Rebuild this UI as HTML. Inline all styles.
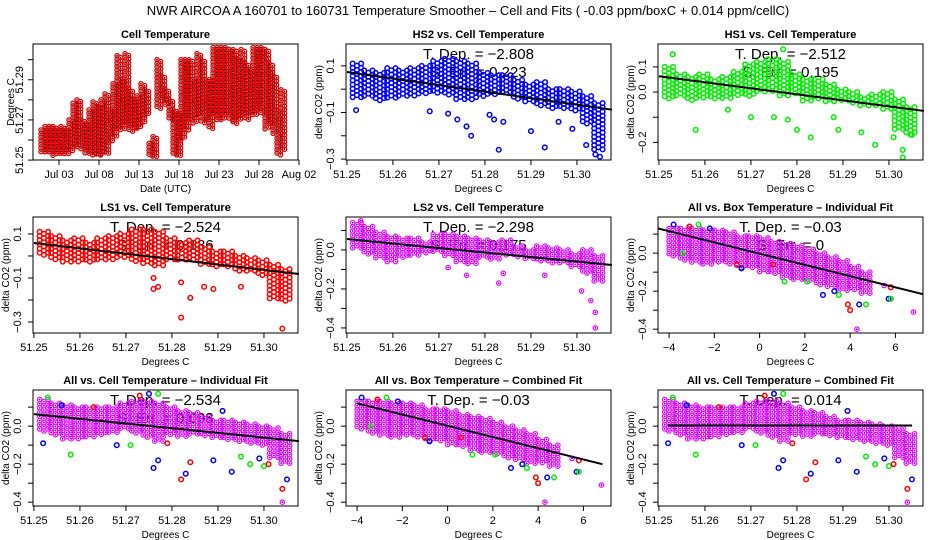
<!DOCTYPE html>
<html><head><meta charset="utf-8"><style>
body{margin:0;background:#fff}
svg{display:block;font-family:"Liberation Sans",sans-serif}
</style></head><body>
<svg id="chart" width="936" height="540">
<rect width="936" height="540" fill="#fff"/>
<text x="468" y="15" text-anchor="middle" font-size="13">NWR   AIRCOA A   160701 to 160731   Temperature Smoother – Cell and Fits ( -0.03  ppm/boxC + 0.014  ppm/cellC)</text>
</svg>
<script>
// ---- data ----
const cellDays=[0,0.5,1,1.5,2,2.5,3,3.5,4,4.5,5,5.5,6,6.5,7,7.5,8,8.5,9,9.5,10,10.5,11,11.5,12,12.5,13,13.5,14,14.5,15,15.5,16,16.5,17,17.5,18,18.5,19,19.5,20,20.5,21,21.5,22,22.5,23,23.5,24,24.5,25,25.5,26,26.5,27,27.5,28,28.5,29,29.5,30];
const cellLo=[51.2542,51.2533,51.2533,51.252,51.2525,51.2525,51.2525,51.254,51.256,51.256,51.255,51.2533,51.2525,51.2525,51.2525,51.2525,51.2533,51.258,51.262,51.265,51.265,51.268,51.264,51.266,51.265,51.268,51.272,51.2517,51.2517,51.275,51.28,51.277,51.27,51.252,51.252,51.26,51.265,51.27,51.268,51.272,51.268,51.27,51.265,51.272,51.27,51.27,51.272,51.27,51.268,51.27,51.272,51.27,51.272,51.272,51.275,51.272,51.265,51.268,51.263,51.252,51.255];
const cellHi=[51.265,51.2667,51.2667,51.2667,51.265,51.2667,51.265,51.27,51.2783,51.28,51.27,51.268,51.275,51.279,51.2767,51.28,51.283,51.275,51.288,51.302,51.29,51.303,51.285,51.28,51.282,51.288,51.285,51.2583,51.2617,51.3,51.292,51.285,51.28,51.275,51.273,51.3,51.3,51.3,51.29,51.303,51.3,51.29,51.29,51.306,51.306,51.306,51.306,51.305,51.305,51.3,51.305,51.298,51.295,51.306,51.306,51.306,51.305,51.298,51.292,51.275,51.285];
const tBins=[51.2525,51.255,51.2575,51.26,51.2625,51.265,51.2675,51.27,51.2725,51.275,51.2775,51.28,51.2825,51.285,51.2875,51.29,51.2925,51.295,51.2975,51.30,51.3025,51.305];
const hs2Lo=[-0.04,-0.03,-0.05,-0.04,-0.03,-0.03,-0.02,-0.02,-0.03,-0.05,-0.05,-0.03,-0.03,-0.02,-0.05,-0.06,-0.07,-0.09,-0.09,-0.1,-0.15,-0.26];
const hs2Hi=[0.11,0.08,0.07,0.09,0.08,0.09,0.1,0.12,0.13,0.12,0.11,0.07,0.06,0.06,0.04,0.02,0.03,0.0,0.0,-0.01,-0.03,-0.06];
const hs2OutX=[51.252,51.268,51.272,51.274,51.276,51.277,51.281,51.282,51.283,51.284,51.29,51.293,51.296,51.299,51.302,51.304,51.305];
const hs2OutY=[-0.09,-0.095,-0.105,-0.13,-0.16,-0.2,-0.11,-0.13,-0.26,-0.14,-0.18,-0.25,-0.14,-0.17,-0.24,-0.28,-0.29];
const hs1Lo=[-0.03,-0.02,-0.04,-0.03,-0.03,-0.03,-0.02,-0.02,0.0,0.0,-0.02,-0.01,-0.04,-0.03,-0.04,-0.04,-0.05,-0.06,-0.06,-0.07,-0.15,-0.17];
const hs1Hi=[0.1,0.07,0.06,0.07,0.05,0.06,0.08,0.11,0.12,0.13,0.12,0.07,0.05,0.05,0.03,0.01,0.0,-0.02,-0.01,0.0,-0.03,-0.06];
const hs1OutX=[51.253,51.258,51.265,51.27,51.275,51.278,51.28,51.283,51.288,51.289,51.294,51.297,51.301,51.303,51.303,51.305,51.277];
const hs1OutY=[0.15,-0.15,-0.07,-0.1,-0.1,-0.11,-0.15,-0.18,-0.1,-0.15,-0.16,-0.21,-0.18,-0.23,-0.26,-0.17,0.17];
const ls1Lo=[0.0,-0.02,-0.03,-0.03,-0.03,-0.02,-0.02,-0.01,-0.03,-0.04,-0.05,-0.02,-0.02,-0.02,-0.04,-0.05,-0.05,-0.07,-0.07,-0.09,-0.2,-0.21];
const ls1Hi=[0.11,0.09,0.07,0.08,0.06,0.08,0.09,0.1,0.12,0.12,0.11,0.08,0.06,0.07,0.04,0.02,0.02,0.0,-0.01,-0.02,-0.04,-0.06];
const ls1OutX=[51.276,51.277,51.282,51.282,51.284,51.287,51.289,51.295,51.304,51.276];
const ls1OutY=[-0.15,-0.14,-0.12,-0.28,-0.19,-0.14,-0.15,-0.14,-0.33,-0.1];
const ls2Lo=[0.0,-0.03,-0.05,-0.06,-0.04,-0.03,-0.02,-0.01,-0.03,-0.06,-0.08,-0.04,-0.05,-0.03,-0.04,-0.05,-0.06,-0.07,-0.07,-0.09,-0.12,-0.16];
const ls2Hi=[0.14,0.12,0.09,0.07,0.06,0.06,0.04,0.08,0.08,0.07,0.06,0.05,0.04,0.05,0.02,0.0,0.02,0.01,0.0,-0.02,0.0,-0.03];
const ls2OutX=[51.253,51.272,51.276,51.283,51.284,51.293,51.301,51.303,51.304,51.304];
const ls2OutY=[0.15,-0.09,-0.13,-0.17,-0.12,-0.13,-0.21,-0.26,-0.32,-0.4];
const allLo=[-0.03,-0.05,-0.07,-0.07,-0.06,-0.05,-0.04,-0.02,-0.04,-0.06,-0.08,-0.05,-0.06,-0.05,-0.06,-0.06,-0.07,-0.09,-0.09,-0.1,-0.17,-0.2];
const allHi=[0.14,0.12,0.11,0.1,0.1,0.1,0.1,0.12,0.13,0.13,0.12,0.1,0.08,0.07,0.05,0.03,0.03,0.02,0.01,0.0,-0.01,-0.04];
const allOutX=[51.252,51.258,51.268,51.276,51.277,51.282,51.283,51.284,51.289,51.293,51.295,51.297,51.299,51.304,51.304,51.305,51.253,51.275,51.277,51.273,51.300,51.256,51.263,51.271,51.279,51.291,51.301];
const allOutY=[-0.09,-0.15,-0.1,-0.22,-0.18,-0.28,-0.25,-0.19,-0.18,-0.24,-0.16,-0.2,-0.17,-0.33,-0.4,-0.28,0.15,0.17,0.17,0.16,-0.21,0.11,0.1,-0.1,-0.09,0.08,-0.2];
const allOutC=["b","g","b","b","b","r","b","r","b","b","g","g","b","r","m","b","g","b","g","r","g","b","r","g","r","b","r"];
const boxBins=[-3.75,-3.25,-2.75,-2.25,-1.75,-1.25,-0.75,-0.25,0.25,0.75,1.25,1.75,2.25,2.75,3.25,3.75,4.25,4.75];
const boxLo=[-0.02,-0.04,-0.05,-0.06,-0.05,-0.06,-0.08,-0.08,-0.1,-0.11,-0.13,-0.14,-0.15,-0.17,-0.18,-0.2,-0.2,-0.22];
const boxHi=[0.13,0.13,0.13,0.12,0.12,0.11,0.09,0.09,0.08,0.06,0.05,0.04,0.02,0.0,-0.02,-0.04,-0.07,-0.1];
const boxOutX=[-3.8,-3.1,-2.7,-1.0,-0.8,1.1,2.1,2.8,3.9,4.3,5.7,5.8,6.8,3.5,4.4,4.7,4.0,5.5,5.8,-3.4,-2.2,0.6,3.3];
const boxOutY=[0.15,0.14,0.15,-0.06,-0.08,-0.15,-0.15,-0.22,-0.27,-0.4,-0.24,-0.24,-0.31,-0.22,-0.27,-0.27,-0.3,-0.17,-0.18,0.0,0.13,-0.06,-0.2];
const boxOutC=["b","r","g","r","b","g","g","b","r","m","b","g","m","g","b","g","r","m","r","g","b","r","b"];
const fitP2=[51.25,0.074,51.3076,-0.088];
const fitP3=[51.25,0.063,51.3076,-0.075];
const fitP4=[51.25,0.059,51.3076,-0.082];
const fitP5=[51.25,0.056,51.3076,-0.077];
const fitP6=[-4.49,0.13,7.22,-0.216];
const fitP7=[51.25,0.063,51.3076,-0.079];
const fitP8=[-4.0,0.12,6.84,-0.2];
const fitP9=[51.252,0.003,51.305,0.003];
const cellTicks=[51.25,51.26,51.27,51.28,51.29,51.30];
const cellTickLabels=["51.25","51.26","51.27","51.28","51.29","51.30"];
const boxTicks=[-4,-2,0,2,4,6];
const boxTickLabels=["\u22124","\u22122","0","2","4","6"];
const dateTicks=[2,7,12,17,22,27,32];
const dateTickLabels=["Jul 03","Jul 08","Jul 13","Jul 18","Jul 23","Jul 28","Aug 02"];

// ---- drawing ----
const NS="http://www.w3.org/2000/svg";
const svg=document.getElementById('chart');
const COL={r:"#ff0000",g:"#00ee00",b:"#0000ff",m:"#ff00ff"};
function mk(tag,attrs,parent){const e=document.createElementNS(NS,tag);for(const k in attrs)e.setAttribute(k,attrs[k]);(parent||svg).appendChild(e);return e;}
const W=265,H=116;
const colX=[33,346,658],rowY=[44,217,390];
let clipId=0;
function panel(cfg){
  const x0=colX[cfg.col],y0=rowY[cfg.row];
  const g=mk('g',{});
  
  
  const sx=v=>x0+(v-cfg.xd[0])/(cfg.xd[1]-cfg.xd[0])*W;
  const sy=v=>y0+H-(v-cfg.yd[0])/(cfg.yd[1]-cfg.yd[0])*H;
  const t=mk('text',{x:x0+W/2,y:y0-6,'text-anchor':'middle','font-size':11,'font-weight':'bold'},g);
  t.textContent=cfg.title;
  
  
  cfg.xTicks.forEach((v,i)=>{
    const x=sx(v);
    const tk=mk('line',{x1:x,x2:x,y1:y0+H,y2:y0+H+5,stroke:'#000'},g);
    
    
    const l=mk('text',{x:x,y:y0+H+18,'text-anchor':'middle','font-size':11},g);
    l.textContent=cfg.xLabels[i];
    
    
  });
  const xa=mk('line',{x1:sx(cfg.xTicks[0]),x2:sx(cfg.xTicks[cfg.xTicks.length-1]),y1:y0+H,y2:y0+H,stroke:'#000'},g);
  
  
  const lx=x0-(cfg.labOff||12);
  cfg.yTicks.forEach((v,i)=>{
    const y=sy(v);
    const tk=mk('line',{x1:x0,x2:x0-5,y1:y,y2:y,stroke:'#000'},g);
    
    
    if(cfg.yLabels[i]){
      const l=mk('text',{x:lx,y:y,'text-anchor':'middle','font-size':11,transform:`rotate(-90 ${lx} ${y})`},g);
      l.textContent=cfg.yLabels[i];
      
      
    }
  });
  const ya=mk('line',{x1:x0,x2:x0,y1:sy(cfg.yTicks[0]),y2:sy(cfg.yTicks[cfg.yTicks.length-1]),stroke:'#000'},g);
  
  
  const xt=mk('text',{x:x0+W/2,y:y0+H+32,'text-anchor':'middle','font-size':10},g);
  xt.textContent=cfg.xtitle;
  
  
  const yx=x0-(cfg.titOff||24),yy=y0+H/2;
  const yt=mk('text',{x:yx,y:yy,'text-anchor':'middle','font-size':10,transform:`rotate(-90 ${yx} ${yy})`},g);
  yt.textContent=cfg.ytitle;
  
  
  (cfg.stats||[]).forEach((s,i)=>{
    const st=mk('text',{x:x0+W/2,y:y0+15+i*18,'text-anchor':'middle','font-size':15},g);
    st.textContent=s;
    
    
  });
  clipId++;
  const cp=mk('clipPath',{id:'c'+clipId},g);
  mk('rect',{x:x0,y:y0,width:W,height:H},cp);
  const pg=mk('g',{'clip-path':`url(#c${clipId})`},g);
  
  
  return {g,pg,sx,sy,x0,y0};
}
function circ(p,x,y,c){
  let e;
  if(c==='m'){e=mk('circle',{cx:x,cy:y,r:2.2,fill:'none',stroke:'#ff00ff','stroke-width':1.2},p.pg);
    mk('circle',{cx:x,cy:y,r:0.9,fill:'#2020ff'},p.pg);}
  else e=mk('circle',{cx:x,cy:y,r:2.3,fill:'none',stroke:COL[c]||c,'stroke-width':1.5},p.pg);
  return e;
}
function band(p,xs,lo,hi,half,c){
  xs.forEach((xv,i)=>{
    const xa=p.sx(xv-half),xb=p.sx(xv+half);
    const ya=p.sy(hi[i]),yb=p.sy(lo[i]);
    let k=0;
    for(let x=xa;x<=xb;x+=4.2){
      for(let y=ya+((k%2)?2.1:0);y<=yb;y+=4.2){circ(p,x,y,c);}
      k++;
    }
  });
}
function outliers(p,xs,ys,cs,c){
  xs.forEach((xv,i)=>{circ(p,p.sx(xv),p.sy(ys[i]),cs?cs[i]:c);});
}
function fit(p,f){
  const l=mk('line',{x1:p.sx(f[0]),y1:p.sy(f[1]),x2:p.sx(f[2]),y2:p.sy(f[3]),stroke:'#000','stroke-width':2},p.g);
  
  
}
function border(p){
  const b=mk('rect',{x:p.x0,y:p.y0,width:W,height:H,fill:'none',stroke:'#000'},p.g);
  
  
}
const cellX=[51.2498,51.3074];
const t01=[0.1,0.0,-0.1,-0.2,-0.3,-0.4];

// Panel 1
let p=panel({name:'cell-temperature-panel',col:0,row:0,title:'Cell Temperature',xd:[-1.25,31.875],yd:[51.25005,51.3078],labOff:10,titOff:19,
  xTicks:dateTicks,xLabels:dateTickLabels,yTicks:[51.25,51.26,51.27,51.28,51.29,51.30],yLabels:["51.25","","51.27","","51.29",""],xtitle:'Date (UTC)',ytitle:'Degrees C'});
cellDays.forEach((d,i)=>{
  const xa=p.sx(d-0.25),xb=p.sx(d+0.25);let k=0;
  for(let x=xa;x<=xb;x+=3.6){for(let y=p.sy(cellHi[i])+((k%2)?1.8:0);y<=p.sy(cellLo[i]);y+=3.6){mk('circle',{cx:x,cy:y,r:2.1,fill:'none',stroke:'#e00000','stroke-width':1.3},p.pg);mk('circle',{cx:x,cy:y,r:0.8,fill:'#300'},p.pg);}k++;}
});
border(p);

// Panel 2 HS2
p=panel({name:'hs2-vs-cell-panel',col:1,row:0,title:'HS2 vs. Cell Temperature',xd:cellX,yd:[-0.304,0.194],xTicks:cellTicks,xLabels:cellTickLabels,
  yTicks:[0.1,0,-0.1,-0.2,-0.3],yLabels:["0.1","","\u22120.1","","\u22120.3"],xtitle:'Degrees C',ytitle:'delta CO2 (ppm)',stats:['T. Dep. =  \u22122.808','S. Err. = 0.223']});
band(p,tBins,hs2Lo,hs2Hi,0.00125,'b');outliers(p,hs2OutX,hs2OutY,null,'b');fit(p,fitP2);border(p);

// Panel 3 HS1
p=panel({name:'hs1-vs-cell-panel',col:2,row:0,title:'HS1 vs. Cell Temperature',xd:cellX,yd:[-0.27,0.191],xTicks:cellTicks,xLabels:cellTickLabels,
  yTicks:[0.1,0,-0.1,-0.2],yLabels:["0.1","0.0","","\u22120.2"],xtitle:'Degrees C',ytitle:'delta CO2 (ppm)',stats:['T. Dep. =  \u22122.512','S. Err. = 0.195']});
band(p,tBins,hs1Lo,hs1Hi,0.00125,'g');outliers(p,hs1OutX,hs1OutY,null,'g');fit(p,fitP3);border(p);

// Panel 4 LS1
p=panel({name:'ls1-vs-cell-panel',col:0,row:1,title:'LS1 vs. Cell Temperature',xd:cellX,yd:[-0.35,0.177],xTicks:cellTicks,xLabels:cellTickLabels,
  yTicks:[0.1,0,-0.1,-0.2,-0.3],yLabels:["0.1","","\u22120.1","","\u22120.3"],xtitle:'Degrees C',ytitle:'delta CO2 (ppm)',stats:['T. Dep. =  \u22122.524','S. Err. = 0.186']});
band(p,tBins,ls1Lo,ls1Hi,0.00125,'r');outliers(p,ls1OutX,ls1OutY,null,'r');fit(p,fitP4);border(p);

// Panel 5 LS2
p=panel({name:'ls2-vs-cell-panel',col:1,row:1,title:'LS2 vs. Cell Temperature',xd:cellX,yd:[-0.426,0.169],xTicks:cellTicks,xLabels:cellTickLabels,
  yTicks:t01,yLabels:["","0.0","","\u22120.2","","\u22120.4"],xtitle:'Degrees C',ytitle:'delta CO2 (ppm)',stats:['T. Dep. =  \u22122.298','S. Err. = 0.175']});
band(p,tBins,ls2Lo,ls2Hi,0.00125,'m');outliers(p,ls2OutX,ls2OutY,null,'m');fit(p,fitP5);border(p);

// Panel 6 box individual
p=panel({name:'all-vs-box-individual-panel',col:2,row:1,title:'All vs. Box Temperature \u2013 Individual Fit',xd:[-4.49,7.22],yd:[-0.42,0.19],xTicks:boxTicks,xLabels:boxTickLabels,
  yTicks:t01,yLabels:["","0.0","","\u22120.2","","\u22120.4"],xtitle:'Degrees C',ytitle:'delta CO2 (ppm)',stats:['T. Dep. =  \u22120.03','S. Err. = 0']});
band(p,boxBins,boxLo,boxHi,0.25,'m');outliers(p,boxOutX,boxOutY,boxOutC);fit(p,fitP6);border(p);

// Panel 7 cell individual
p=panel({name:'all-vs-cell-individual-panel',col:0,row:2,title:'All vs. Cell Temperature \u2013 Individual Fit',xd:cellX,yd:[-0.42,0.19],xTicks:cellTicks,xLabels:cellTickLabels,
  yTicks:t01,yLabels:["","0.0","","\u22120.2","","\u22120.4"],xtitle:'Degrees C',ytitle:'delta CO2 (ppm)',stats:['T. Dep. =  \u22122.534','S. Err. = 0.098']});
band(p,tBins,allLo,allHi,0.00125,'m');outliers(p,allOutX,allOutY,allOutC);fit(p,fitP7);border(p);

// Panel 8 box combined
p=panel({name:'all-vs-box-combined-panel',col:1,row:2,title:'All vs. Box Temperature \u2013 Combined Fit',xd:[-4.49,7.22],yd:[-0.42,0.19],xTicks:boxTicks,xLabels:boxTickLabels,
  yTicks:t01,yLabels:["","0.0","","\u22120.2","","\u22120.4"],xtitle:'Degrees C',ytitle:'delta CO2 (ppm)',stats:['T. Dep. =  \u22120.03']});
band(p,boxBins,boxLo,boxHi,0.25,'m');outliers(p,boxOutX,boxOutY,boxOutC);fit(p,fitP8);border(p);

// Panel 9 cell combined
p=panel({name:'all-vs-cell-combined-panel',col:2,row:2,title:'All vs. Cell Temperature \u2013 Combined Fit',xd:cellX,yd:[-0.42,0.19],xTicks:cellTicks,xLabels:cellTickLabels,
  yTicks:t01,yLabels:["","0.0","","\u22120.2","","\u22120.4"],xtitle:'Degrees C',ytitle:'delta CO2 (ppm)',stats:['T. Dep. =  0.014']});
band(p,tBins,allLo,allHi,0.00125,'m');outliers(p,allOutX,allOutY,allOutC);fit(p,fitP9);border(p);
</script>
</body></html>
